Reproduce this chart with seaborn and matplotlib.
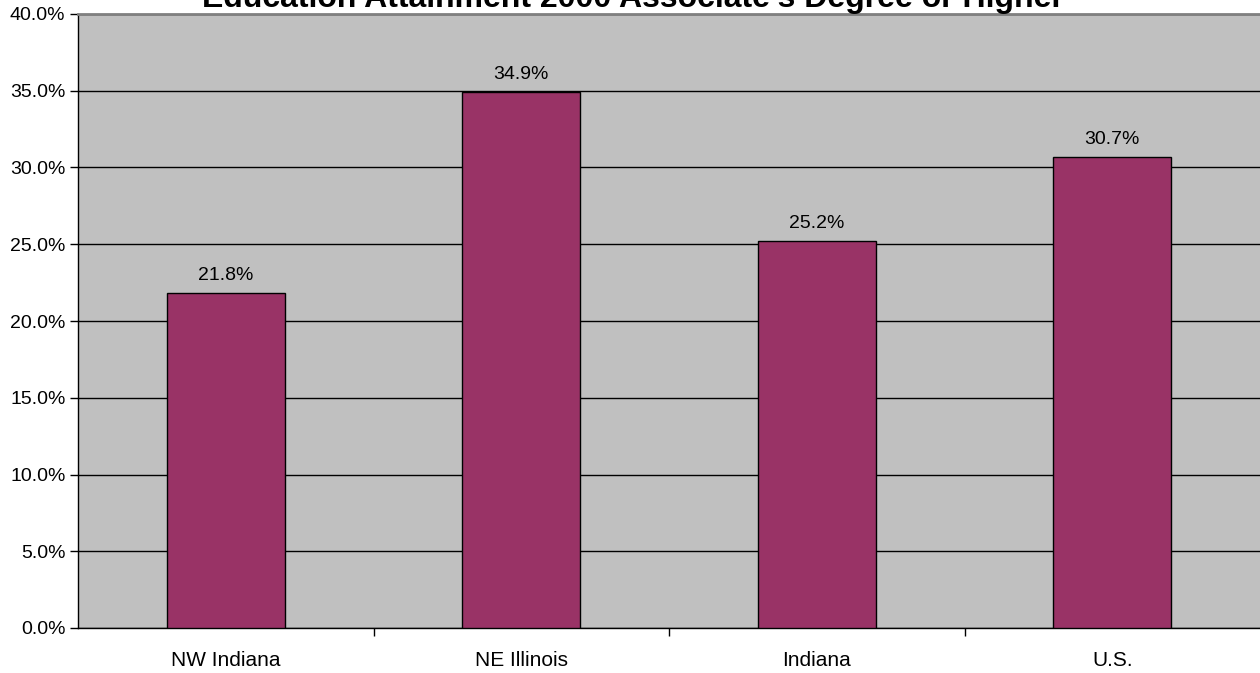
import numpy as np
import seaborn as sns
import matplotlib.pyplot as plt
from matplotlib.ticker import FuncFormatter, FixedLocator

regions = ['NW Indiana', 'NE Illinois', 'Indiana', 'U.S.']
pct = [21.8, 34.9, 25.2, 30.7]
title = "Education Attainment 2000 Associate's Degree or Higher"

sns.set_style('white')
plt.rcParams['font.family'] = ['Liberation Sans', 'DejaVu Sans']
plt.rcParams['text.color'] = 'black'
plt.rcParams['xtick.color'] = 'black'
plt.rcParams['ytick.color'] = 'black'

fig = plt.figure(figsize=(12.6, 6.73), dpi=100)
ax = fig.add_axes([78 / 1260, 1 - 628 / 673, 1 - 78 / 1260, (628 - 14) / 673])
ax.set_facecolor('#C0C0C0')

sns.barplot(x=regions, y=pct, color='#993366', width=0.4, saturation=1,
            edgecolor='black', linewidth=1, ax=ax, zorder=3)

ax.set_ylim(0, 40)
ax.set_xlim(-0.5, 3.5)
ax.set_yticks(np.arange(0, 41, 5))
ax.yaxis.set_major_formatter(FuncFormatter(lambda v, p: '%.1f%%' % v))
ax.yaxis.grid(True, color='black', linewidth=1)
ax.set_axisbelow(True)

# value labels above bars
for i, v in enumerate(pct):
    ax.text(i, v + 0.6, '%.1f%%' % v, ha='center', va='bottom', fontsize=14, zorder=4)

ax.tick_params(axis='y', left=True, length=6, width=1, labelsize=14, pad=3)
ax.tick_params(axis='x', bottom=False, labelsize=15, pad=13)
ax.xaxis.set_minor_locator(FixedLocator([0.5, 1.5, 2.5]))
ax.tick_params(axis='x', which='minor', bottom=True, length=6, width=1)

for s in ['left', 'bottom']:
    ax.spines[s].set_color('black')
    ax.spines[s].set_linewidth(1)
ax.spines['top'].set_color('#808080')
ax.spines['top'].set_linewidth(2)
ax.spines['right'].set_visible(False)

fig.text(633 / 1260, 1 - 7 / 673, title, ha='center', va='baseline', fontsize=23,
         fontweight='bold')

fig.savefig('out.png', dpi=100)
